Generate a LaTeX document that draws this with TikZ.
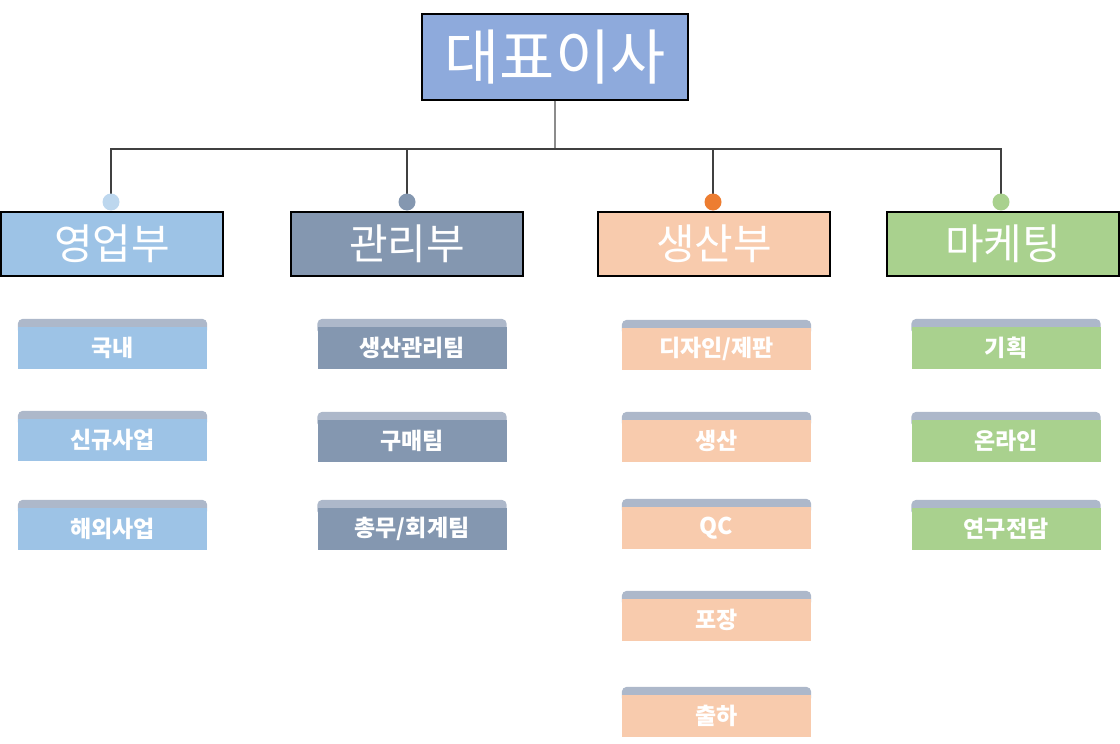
\documentclass[tikz,border=0pt]{standalone}
\usepackage{fontspec}
\newfontfamily\kr{Noto Sans CJK KR}
\usetikzlibrary{backgrounds}
\definecolor{ceoblue}{HTML}{8EAADC}
\definecolor{sales}{HTML}{9DC3E6}
\definecolor{salesdot}{HTML}{BDD7EE}
\definecolor{admin}{HTML}{8497B0}
\definecolor{prod}{HTML}{F8CBAD}
\definecolor{proddot}{HTML}{ED7D31}
\definecolor{mkt}{HTML}{A9D18E}
\definecolor{band}{HTML}{ADB8CA}

\begin{document}
\begin{tikzpicture}
  [x=1pt,y=-1pt,
    every node/.style={font=\kr,text=white,inner sep=0pt},
    head/.style={draw=black,line width=1.4pt,minimum width=232pt,minimum height=64pt,
      font=\kr\fontsize{42}{46}\selectfont},
    team/.style={minimum width=189pt,minimum height=42pt,
      font=\kr\bfseries\fontsize{23}{26}\selectfont},
    dot/.style={circle,minimum size=17pt},
    link/.style={draw=black!75,line width=1.5pt},
]
  \useasboundingbox (0,0) rectangle (1120,744);

  \node[head,fill=ceoblue,minimum width=266pt,minimum height=86pt,
    font=\kr\fontsize{60}{64}\selectfont] (ceo) at (555,57) {대표이사};

  % departments
  \node[head,fill=sales,minimum width=222pt] (sales) at (112,244) {영업부};
  \node[head,fill=admin] (admin) at (407,244) {관리부};
  \node[head,fill=prod] (prod) at (714,244) {생산부};
  \node[head,fill=mkt] (mkt) at (1003,244) {마케팅};

  \coordinate (bar) at (555,149);
  \node[dot] (d1) at (111,202) {};
  \node[dot] (d2) at (407,202) {};
  \node[dot] (d3) at (713,202) {};
  \node[dot] (d4) at (1001,202) {};
  \draw[draw=black!45,line width=1.5pt] (ceo) -- (bar);
  \draw[link] (d1.center) |- (d4.center |- bar) -- (d4.center);
  \draw[link] (d2.center) -- (d2.center |- bar);
  \draw[link] (d3.center) -- (d3.center |- bar);
  \fill[salesdot] (d1) circle (8.5pt);
  \fill[admin] (d2) circle (8.5pt);
  \fill[proddot] (d3) circle (8.5pt);
  \fill[mkt] (d4) circle (8.5pt);

  % teams
  \node[team,fill=sales] (s1) at (112.5,348) {국내};
  \node[team,fill=sales] (s2) at (112.5,440) {신규사업};
  \node[team,fill=sales] (s3) at (112.5,529) {해외사업};

  \node[team,fill=admin] (a1) at (412,348) {생산관리팀};
  \node[team,fill=admin] (a2) at (412,441) {구매팀};
  \node[team,fill=admin] (a3) at (412,529) {총무/회계팀};

  \node[team,fill=prod] (p1) at (716.5,349) {디자인/제판};
  \node[team,fill=prod] (p2) at (716.5,441) {생산};
  \node[team,fill=prod] (p3) at (716.5,528) {QC};
  \node[team,fill=prod] (p4) at (716.5,620) {포장};
  \node[team,fill=prod] (p5) at (716.5,716) {출하};

  \node[team,fill=mkt] (m1) at (1006,348) {기획};
  \node[team,fill=mkt] (m2) at (1006,441) {온라인};
  \node[team,fill=mkt] (m3) at (1006,529) {연구전담};

  \begin{scope}[on background layer]
    \foreach \t in {s1,s2,s3,a1,a2,a3,p1,p2,p3,p4,p5,m1,m2,m3}
      \fill[band,rounded corners=5pt] ([yshift=-8pt]\t.north west) rectangle ([yshift=8pt]\t.north east);
  \end{scope}
\end{tikzpicture}
\end{document}
